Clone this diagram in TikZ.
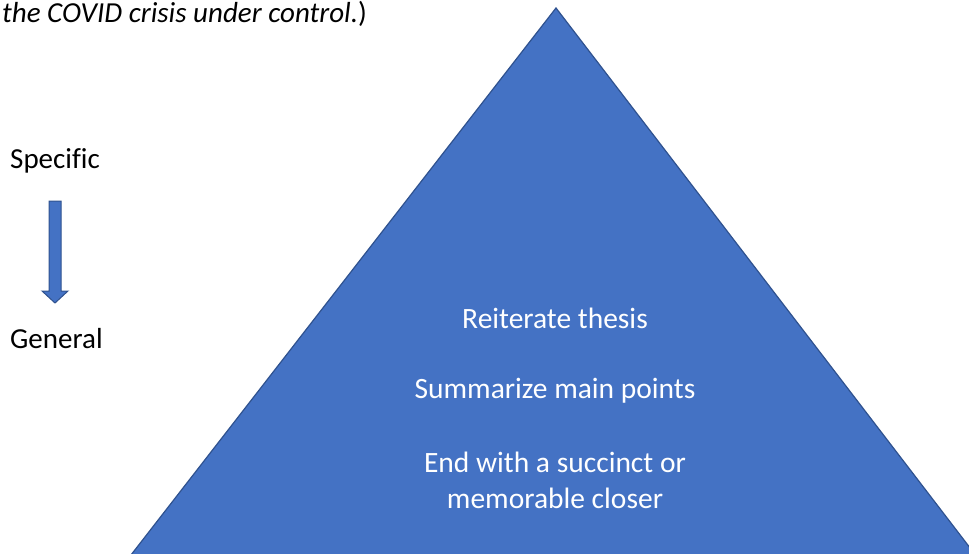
\documentclass[tikz,border=0pt]{standalone}
\usepackage{fontspec}
\setmainfont[Ligatures=NoCommon]{Carlito}
\usetikzlibrary{positioning}

\definecolor{triblue}{HTML}{4472C4}
\definecolor{triedge}{HTML}{2F528F}

\tikzset{
  blockfill/.style={fill=triblue,draw=triedge,line width=1.2pt,line join=miter},
  sidetext/.style={font=\fontsize{29}{34}\selectfont,anchor=base west,inner sep=0pt},
  intext/.style={font=\fontsize{29.5}{34}\selectfont,text=white,anchor=base,inner sep=0pt}
}

\begin{document}
\begin{tikzpicture}[x=1pt,y=-1pt]

  \useasboundingbox (0,0) rectangle (969,554);
  \clip (0,0) rectangle (969,554);

  % the pyramid, its base runs out of the page
  \coordinate (A) at (556,8);
  \coordinate (B) at (96,600);
  \coordinate (C) at (1010,600);
  \draw[blockfill] (A) -- (B) -- (C) -- cycle;

  \node[intext] (R) at (555,328) {Reiterate thesis};
  \node[intext] (S) at (555,398) {Summarize main points};
  \node[intext] (E) at (555,472) {End with a succinct or};
  \node[intext] (M) at (555,508) {memorable closer};

  % left side
  \node[sidetext] (spec) at (10,168) {Specific};
  \node[sidetext] (gen) at (10,348) {General};

  \coordinate (T) at (55,201);
  \coordinate (P) at (55,303);
  \draw[blockfill,line width=1pt] ([xshift=-6pt]T) -- ([xshift=6pt]T)
     -- ([xshift=6pt,yshift=12pt]P) -- ([xshift=13pt,yshift=12pt]P)
     -- (P) -- ([xshift=-13pt,yshift=12pt]P) -- ([xshift=-6pt,yshift=12pt]P)
     -- cycle;

  \node[sidetext] (top) at (2,22) {\itshape the COVID crisis under control.\upshape)};

\end{tikzpicture}
\end{document}
